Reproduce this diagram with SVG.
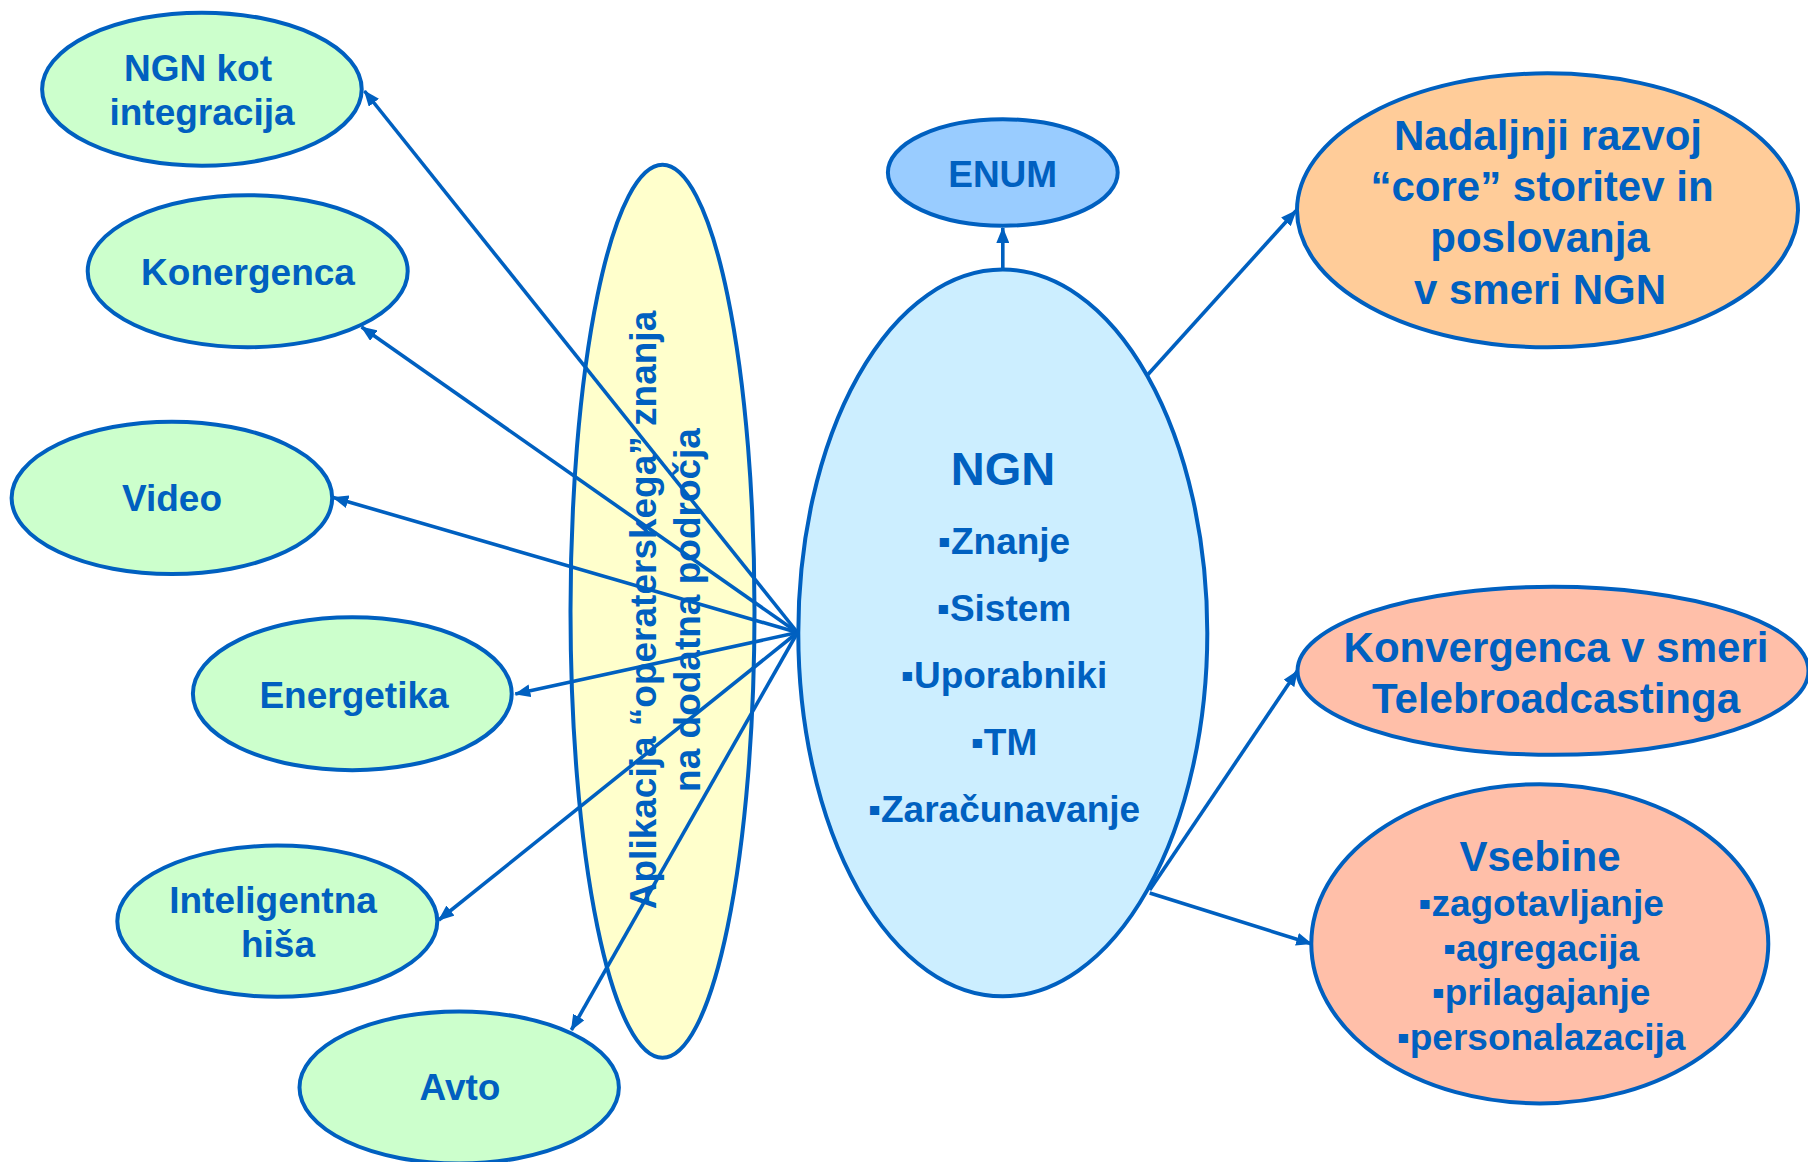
<svg xmlns="http://www.w3.org/2000/svg" width="1808" height="1162" viewBox="0 0 1808 1162">
<defs>
<style>
.n{stroke:#0060c0;stroke-width:4}
.g{fill:#ccffcc}
.t{font-family:"Liberation Sans",Arial,sans-serif;font-weight:bold;fill:#0060c0;text-anchor:middle;font-size:37px}
.b{font-size:42px}
#connectors line{stroke:#0060c0;stroke-width:3.6;marker-end:url(#ah)}
</style>
<marker id="ah" viewBox="0 0 16 13" refX="15" refY="6.5" markerWidth="16" markerHeight="13" markerUnits="userSpaceOnUse" orient="auto">
<path d="M0,0 L16,6.5 L0,13 z" fill="#0060c0"/>
</marker>
</defs>
<rect width="1808" height="1162" fill="#ffffff"/>

<g id="yellow">
<ellipse class="n" cx="662.5" cy="611.3" rx="92" ry="446.5" fill="#ffffcc"/>
<g transform="translate(655.5,610) rotate(-90)">
<text class="t" x="0" y="0">Aplikacija “operaterskega” znanja</text>
<text class="t" x="0" y="44.5">na dodatna področja</text>
</g>
</g>

<g id="connectors">
<line x1="797.5" y1="632.5" x2="364.5" y2="91"/>
<line x1="797.5" y1="632.5" x2="361.6" y2="327"/>
<line x1="797.5" y1="632.5" x2="333.3" y2="497.5"/>
<line x1="797.5" y1="632.5" x2="515.3" y2="694"/>
<line x1="797.5" y1="632.5" x2="438.8" y2="920"/>
<line x1="797.5" y1="632.5" x2="571.4" y2="1030"/>
<line x1="1002.8" y1="269.5" x2="1002.8" y2="228"/>
<line x1="1147.5" y1="375" x2="1296" y2="210.7"/>
<line x1="1149.7" y1="890" x2="1297.3" y2="671"/>
<line x1="1149.7" y1="893" x2="1311.3" y2="943.8"/>
</g>

<g id="ngn-kot">
<ellipse class="n g" cx="201.9" cy="89.2" rx="159.8" ry="76.5"/>
<text class="t" x="198" y="80.5">NGN kot</text>
<text class="t" x="202" y="124.5">integracija</text>
</g>

<g id="konergenca">
<ellipse class="n g" cx="247.7" cy="271.2" rx="160" ry="76"/>
<text class="t" x="248" y="285">Konergenca</text>
</g>

<g id="video">
<ellipse class="n g" cx="171.9" cy="497.9" rx="160.3" ry="76.2"/>
<text class="t" x="172" y="511">Video</text>
</g>

<g id="energetika">
<ellipse class="n g" cx="352.3" cy="693.7" rx="159.4" ry="76.5"/>
<text class="t" x="354" y="707.5">Energetika</text>
</g>

<g id="inteligentna-hisa">
<ellipse class="n g" cx="277.3" cy="921.2" rx="160" ry="75.6"/>
<text class="t" x="273" y="912.5">Inteligentna</text>
<text class="t" x="278" y="956.5">hiša</text>
</g>

<g id="avto">
<ellipse class="n g" cx="459.2" cy="1087.5" rx="159.7" ry="76"/>
<text class="t" x="460" y="1100">Avto</text>
</g>

<g id="enum">
<ellipse class="n" cx="1002.8" cy="172.5" rx="114.9" ry="53.2" fill="#99ccff"/>
<text class="t" x="1002.7" y="186.7">ENUM</text>
</g>

<g id="ngn">
<ellipse class="n" cx="1002.8" cy="632.9" rx="204.5" ry="363.4" fill="#cceeff"/>
<text class="t" x="1003" y="485" style="font-size:47px">NGN</text>
<text class="t" x="1004" y="554">▪Znanje</text>
<text class="t" x="1004" y="621">▪Sistem</text>
<text class="t" x="1004" y="688">▪Uporabniki</text>
<text class="t" x="1004" y="755">▪TM</text>
<text class="t" x="1004" y="822">▪Zaračunavanje</text>
</g>

<g id="nadaljnji-razvoj">
<ellipse class="n" cx="1547.5" cy="210.3" rx="250.5" ry="137" fill="#ffcc99"/>
<text class="t b" x="1548" y="149.5">Nadaljnji razvoj</text>
<text class="t b" x="1542" y="200.5">“core” storitev in</text>
<text class="t b" x="1540" y="252">poslovanja</text>
<text class="t b" x="1540" y="303.5">v smeri NGN</text>
</g>

<g id="konvergenca">
<ellipse class="n" cx="1553" cy="670.8" rx="255.5" ry="84" fill="#ffbfa9"/>
<text class="t b" x="1556" y="662">Konvergenca v smeri</text>
<text class="t b" x="1556" y="712.5">Telebroadcastinga</text>
</g>

<g id="vsebine">
<ellipse class="n" cx="1539.8" cy="943.8" rx="228.5" ry="159.6" fill="#ffbfa9"/>
<text class="t b" x="1540" y="871">Vsebine</text>
<text class="t" x="1541" y="916">▪zagotavljanje</text>
<text class="t" x="1541" y="961">▪agregacija</text>
<text class="t" x="1541" y="1005">▪prilagajanje</text>
<text class="t" x="1541" y="1050">▪personalazacija</text>
</g>
</svg>
